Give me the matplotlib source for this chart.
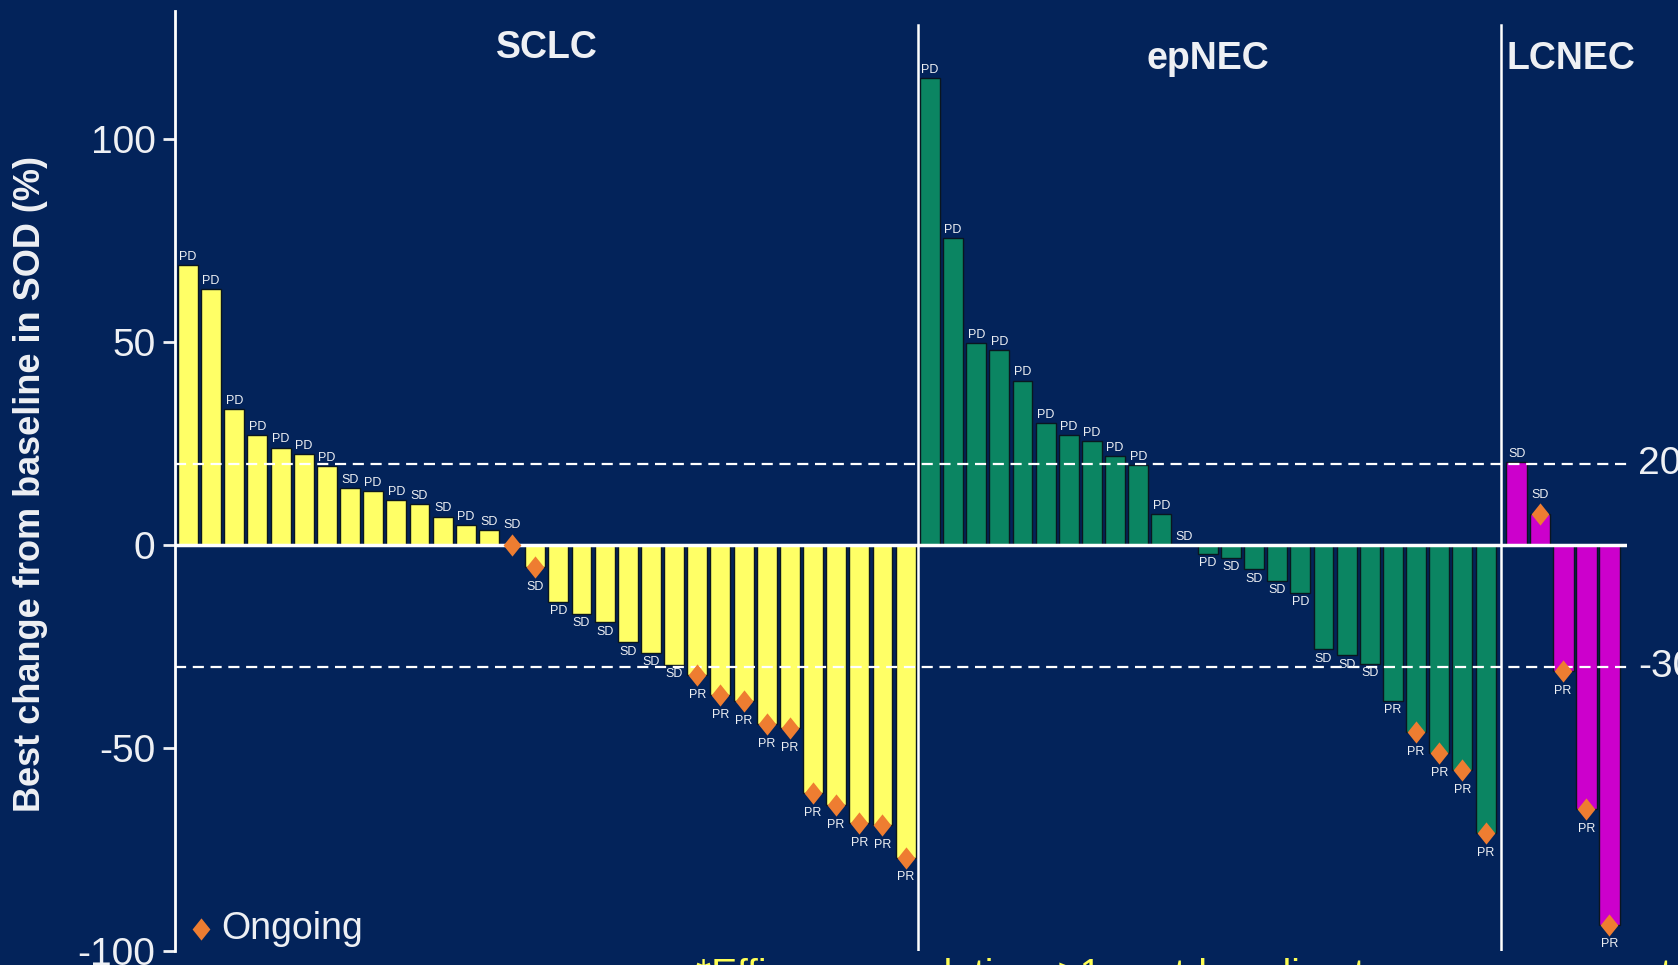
import numpy as np
import matplotlib
matplotlib.use("Agg")
import matplotlib.pyplot as plt
from matplotlib import font_manager

# best change from baseline in SOD (%) per patient, by tumour type
sclc_vals = [69, 63, 33.5, 27, 24, 22.5, 19.5, 14, 13.3, 11, 10, 7, 5, 3.7, 0,
             -5.5, -14, -17, -19, -24, -26.5, -29.5, -32, -37, -38.5, -44, -45,
             -61, -64, -68.5, -69, -77]
sclc_resp = ["PD", "PD", "PD", "PD", "PD", "PD", "PD", "SD", "PD", "PD", "SD",
             "SD", "PD", "SD", "SD", "SD", "PD", "SD", "SD", "SD", "SD", "SD",
             "PR", "PR", "PR", "PR", "PR", "PR", "PR", "PR", "PR", "PR"]
sclc_ongoing = [14, 15, 22, 23, 24, 25, 26, 27, 28, 29, 30, 31]

epnec_vals = [115, 75.5, 49.7, 48, 40.5, 30, 27, 25.7, 21.8, 19.7, 7.6, 0,
              -2.2, -3.2, -6, -8.8, -11.8, -25.7, -27.2, -29.2, -38.4, -46,
              -51.3, -55.4, -71]
epnec_resp = ["PD"] * 11 + ["SD", "PD", "SD", "SD", "SD", "PD", "SD", "SD",
                            "SD", "PR", "PR", "PR", "PR", "PR"]
epnec_ongoing = [21, 22, 23, 24]

lcnec_vals = [20.5, 7.5, -31, -65, -93.5]
lcnec_resp = ["SD", "SD", "PR", "PR", "PR"]
lcnec_ongoing = [1, 2, 3, 4]

groups = ["SCLC", "epNEC", "LCNEC"]
thresholds = [20, -30]

bg = "#03235a"
colors = ["#ffff66", "#0b8562", "#cc00cc"]
orange = "#ee7d31"
txt = "#eef0f4"

names = {f.name for f in font_manager.fontManager.ttflist}
base = "Liberation Sans" if "Liberation Sans" in names else "DejaVu Sans"
narrow = "Liberation Sans Narrow" if "Liberation Sans Narrow" in names else base
plt.rcParams["font.family"] = [base, "DejaVu Sans"]
plt.rcParams["axes.unicode_minus"] = False

fig = plt.figure(figsize=(16.78, 9.65), dpi=100, facecolor=bg)
ax = fig.add_axes([175 / 1678, 14 / 965, 1452 / 1678, 940 / 965])
ax.set_facecolor(bg)

diamond = [(0, 1), (0.8, 0), (0, -1), (-0.8, 0), (0, 1)]

# x positions: unit spacing inside a group, a little extra space between groups
starts = [0, 32.05, 57.4]
data = [(sclc_vals, sclc_resp, sclc_ongoing),
        (epnec_vals, epnec_resp, epnec_ongoing),
        (lcnec_vals, lcnec_resp, lcnec_ongoing)]
centers = []
for g, ((vals, resp, ong), x0, c) in enumerate(zip(data, starts, colors)):
    x = x0 + np.arange(len(vals))
    w = 0.86 if g < 2 else 0.9
    ax.bar(x, vals, width=w, color=c, edgecolor="#0a1620", linewidth=1.0, zorder=2)
    ax.plot(x[ong], np.array(vals)[ong], linestyle="none", marker=diamond,
            markersize=16, color=orange, markeredgewidth=0, zorder=5)
    for i, (xi, v, r) in enumerate(zip(x, vals, resp)):
        has_d = i in ong
        if v >= 0:
            off, va = (10 if has_d else 1.5), "bottom"
        else:
            off, va = (-10 if has_d else -2.5), "top"
        ax.annotate(r, (xi, v), xytext=(0, off), textcoords="offset points",
                    ha="center", va=va, fontsize=9, color=txt,
                    family=[narrow, "DejaVu Sans"], zorder=6)
    centers.append((x[0] + x[-1]) / 2)

# separators between tumour types
for s in [(starts[1] + 31) / 2, (starts[2] + starts[1] + 24) / 2]:
    ax.axvline(s, ymin=0, ymax=0.985, color="white", linewidth=1.8, zorder=4)

ax.axhline(0, color="white", linewidth=2.5, zorder=4)
for t in thresholds:
    ax.axhline(t, color="white", linewidth=1.6, linestyle=(0, (5, 3)), zorder=4)
    ax.annotate(str(t), (1, t), xycoords=("axes fraction", "data"),
                xytext=(8, 0), textcoords="offset points", ha="left",
                va="center", fontsize=28, color=txt, annotation_clip=False)

title_x = [centers[0], centers[1], centers[2] + 0.35]
for name, cx, ty in zip(groups, title_x, [122.5, 119.7, 119.7]):
    ax.text(cx, ty, name, ha="center", va="center", fontsize=27,
            fontweight="bold", color=txt)

ax.set_xlim(-0.56, 62.16)
ax.set_ylim(-100, 131.5)
ax.set_yticks([-100, -50, 0, 50, 100])
ax.set_xticks([])
ax.tick_params(axis="y", colors=txt, labelsize=28, length=9, width=2, pad=5)
for sp in ["top", "right", "bottom"]:
    ax.spines[sp].set_visible(False)
ax.spines["left"].set_color("white")
ax.spines["left"].set_linewidth(2)

fig.text(31 / 1678, (965 - 484) / 965, "Best change from baseline in SOD (%)",
         rotation=90, ha="center", va="center", fontsize=26,
         fontweight="bold", color=txt)

# legend for ongoing treatment
ax.plot([0.56], [-94.6], linestyle="none", marker=diamond, markersize=16,
        color=orange, markeredgewidth=0)
ax.text(1.45, -94.6, "Ongoing", ha="left", va="center", fontsize=27, color=txt)

fig.text(696 / 1678, 7 / 965, "*Efficacy population: \u22651 post-baseline tumor assessment",
         ha="left", va="top", fontsize=28, color="#ffff55")

fig.savefig("out.png", dpi=100, facecolor=bg)
